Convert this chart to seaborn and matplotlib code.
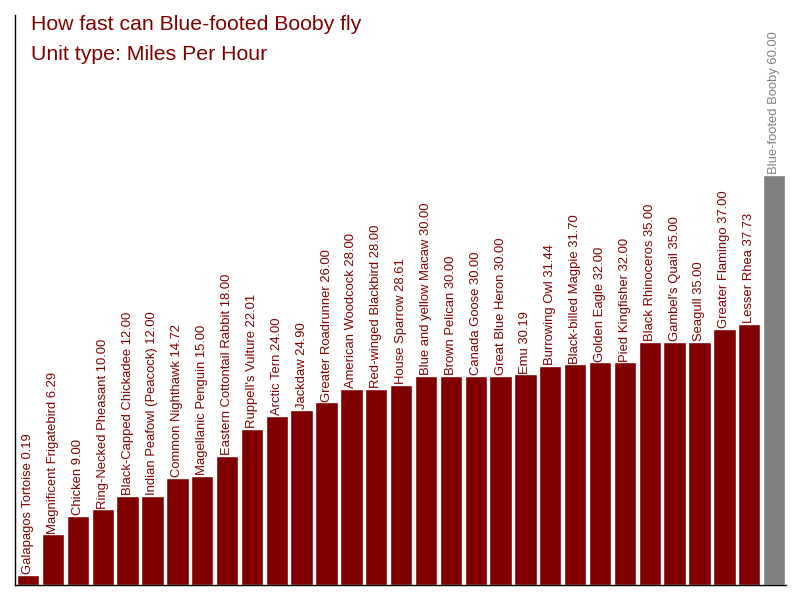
import numpy as np
import pandas as pd
import matplotlib
matplotlib.use("Agg")
import matplotlib.pyplot as plt
import seaborn as sns

# Flying / running speeds, miles per hour
animals = [
    "Galapagos Tortoise", "Magnificent Frigatebird", "Chicken", "Ring-Necked Pheasant",
    "Black-Capped Chickadee", "Indian Peafowl (Peacock)", "Common Nighthawk",
    "Magellanic Penguin", "Eastern Cottontail Rabbit", "Ruppell's Vulture", "Arctic Tern",
    "Jackdaw", "Greater Roadrunner", "American Woodcock", "Red-winged Blackbird",
    "House Sparrow", "Blue and yellow Macaw", "Brown Pelican", "Canada Goose",
    "Great Blue Heron", "Emu", "Burrowing Owl", "Black-billed Magpie", "Golden Eagle",
    "Pied Kingfisher", "Black Rhinoceros", "Gambel's Quail", "Seagull",
    "Greater Flamingo", "Lesser Rhea", "Blue-footed Booby",
]
speeds = [
    0.19, 6.29, 9.00, 10.00, 12.00, 12.00, 14.72, 15.00, 18.00, 22.01, 24.00,
    24.90, 26.00, 28.00, 28.00, 28.61, 30.00, 30.00, 30.00, 30.00, 30.19, 31.44,
    31.70, 32.00, 32.00, 35.00, 35.00, 35.00, 37.00, 37.73, 60.00,
]
highlight = "Blue-footed Booby"

RED = "#800000"
GRAY = "#808080"
YMIN = -1.3  # bars start a little below zero, at the axis line

df = pd.DataFrame({"animal": animals, "speed": speeds})
colors = [GRAY if a == highlight else RED for a in animals]

sns.set_style("white")
plt.rcParams["font.family"] = ["Liberation Sans", "DejaVu Sans"]

fig = plt.figure(figsize=(8, 6), dpi=100)
ax = fig.add_axes([15 / 800, 15 / 600, 771 / 800, 570 / 600])

sns.barplot(data=df, x="animal", y="speed", hue="animal", palette=colors,
            legend=False, width=0.9, saturation=1, ax=ax)

# extend bars down to the axis line
for p in ax.patches:
    h = p.get_height()
    p.set_y(YMIN)
    p.set_height(h - YMIN)

for i, (name, val) in enumerate(zip(animals, speeds)):
    c = GRAY if name == highlight else RED
    ax.annotate(f"{name} {val:.2f}", xy=(i, val), xytext=(0, 0.5),
                textcoords="offset points", rotation=90, ha="center", va="bottom",
                fontsize=9.4, color=c)

ax.set_xlim(-0.53, 30.48)
ax.set_ylim(YMIN, 83.9)
ax.set_xticks([])
ax.set_yticks([])
ax.set_xlabel("")
ax.set_ylabel("")
for s in ["top", "right"]:
    ax.spines[s].set_visible(False)
for s in ["left", "bottom"]:
    ax.spines[s].set_color("black")
    ax.spines[s].set_linewidth(1)

fig.text(31 / 800, 1 - 30 / 600, "How fast can Blue-footed Booby fly",
         color=RED, fontsize=15.3, va="baseline", ha="left")
fig.text(31 / 800, 1 - 60.5 / 600, "Unit type: Miles Per Hour",
         color=RED, fontsize=15.3, va="baseline", ha="left")

fig.savefig("out.png", dpi=100)
